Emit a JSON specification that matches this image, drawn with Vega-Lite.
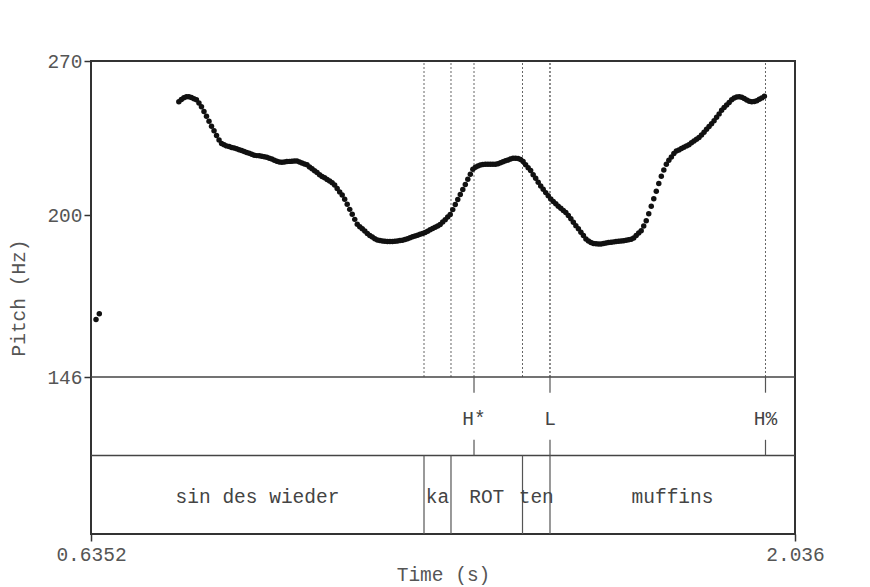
{
 "$schema": "https://vega.github.io/schema/vega-lite/v6.json",
 "width": 704,
 "height": 473,
 "autosize": {"type": "none"},
 "padding": {"left": 91, "top": 61, "right": 75, "bottom": 53},
 "background": "white",
 "config": {"view": {"stroke": "#333", "strokeWidth": 2}, "font": "Liberation Mono"},
 "datasets": {
  "words": [
   {"start": 0.6352, "end": 1.2978, "label": "sin des wieder"},
   {"start": 1.2978, "end": 1.3515, "label": "ka"},
   {"start": 1.3515, "end": 1.4938, "label": "ROT"},
   {"start": 1.4938, "end": 1.5485, "label": "ten"},
   {"start": 1.5485, "end": 2.036, "label": "muffins"}
  ],
  "tones": [
   {"time": 1.3973, "label": "H*"},
   {"time": 1.5485, "label": "L"},
   {"time": 1.9773, "label": "H%"}
  ],
  "pitch": [
   {"t":0.6452,"f":163.3},{"t":0.6517,"f":165.1},
   {"t":0.810,"f":249.4},{"t":0.815,"f":250.5},{"t":0.820,"f":251.4},{"t":0.825,"f":251.9},{"t":0.830,"f":251.9},{"t":0.835,"f":251.5},{"t":0.840,"f":250.9},{"t":0.845,"f":250.4},{"t":0.850,"f":248.8},{"t":0.855,"f":247.0},
   {"t":0.860,"f":244.7},{"t":0.865,"f":242.5},{"t":0.870,"f":240.1},{"t":0.875,"f":237.8},{"t":0.880,"f":235.7},{"t":0.885,"f":233.6},{"t":0.890,"f":231.5},{"t":0.895,"f":230.0},{"t":0.900,"f":229.4},{"t":0.905,"f":228.9},
   {"t":0.910,"f":228.6},{"t":0.915,"f":228.2},{"t":0.920,"f":228.0},{"t":0.925,"f":227.6},{"t":0.930,"f":227.2},{"t":0.935,"f":226.8},{"t":0.940,"f":226.4},{"t":0.945,"f":226.0},{"t":0.950,"f":225.6},{"t":0.955,"f":225.2},
   {"t":0.960,"f":224.8},{"t":0.965,"f":224.6},{"t":0.970,"f":224.5},{"t":0.975,"f":224.3},{"t":0.980,"f":224.1},{"t":0.985,"f":223.9},{"t":0.990,"f":223.5},{"t":0.995,"f":223.1},{"t":1.000,"f":222.6},{"t":1.005,"f":222.2},
   {"t":1.010,"f":221.8},{"t":1.015,"f":221.7},{"t":1.020,"f":221.8},{"t":1.025,"f":222.0},{"t":1.030,"f":222.1},{"t":1.035,"f":222.2},{"t":1.040,"f":222.3},{"t":1.045,"f":222.3},{"t":1.050,"f":221.8},{"t":1.055,"f":221.4},
   {"t":1.060,"f":221.0},{"t":1.065,"f":220.6},{"t":1.070,"f":219.7},{"t":1.075,"f":218.9},{"t":1.080,"f":218.1},{"t":1.085,"f":217.3},{"t":1.090,"f":216.4},{"t":1.095,"f":215.7},{"t":1.100,"f":215.1},{"t":1.105,"f":214.4},
   {"t":1.110,"f":213.8},{"t":1.115,"f":213.1},{"t":1.120,"f":212.1},{"t":1.125,"f":210.7},{"t":1.130,"f":209.3},{"t":1.135,"f":208.0},{"t":1.140,"f":206.3},{"t":1.145,"f":204.3},{"t":1.150,"f":202.3},{"t":1.155,"f":200.4},
   {"t":1.160,"f":198.4},{"t":1.165,"f":196.5},{"t":1.170,"f":195.6},{"t":1.175,"f":194.8},{"t":1.180,"f":194.0},{"t":1.185,"f":193.0},{"t":1.190,"f":192.3},{"t":1.195,"f":191.7},{"t":1.200,"f":191.1},{"t":1.205,"f":190.6},
   {"t":1.210,"f":190.4},{"t":1.215,"f":190.2},{"t":1.220,"f":190.1},{"t":1.225,"f":190.0},{"t":1.230,"f":190.0},{"t":1.235,"f":190.0},{"t":1.240,"f":190.1},{"t":1.245,"f":190.2},{"t":1.250,"f":190.4},{"t":1.255,"f":190.5},
   {"t":1.260,"f":190.8},{"t":1.265,"f":191.1},{"t":1.270,"f":191.4},{"t":1.275,"f":191.8},{"t":1.280,"f":192.1},{"t":1.285,"f":192.4},{"t":1.290,"f":192.7},{"t":1.295,"f":193.0},{"t":1.300,"f":193.4},{"t":1.305,"f":193.9},
   {"t":1.310,"f":194.4},{"t":1.315,"f":194.9},{"t":1.320,"f":195.4},{"t":1.325,"f":195.9},{"t":1.330,"f":196.4},{"t":1.335,"f":197.4},{"t":1.340,"f":198.3},{"t":1.345,"f":199.3},{"t":1.350,"f":200.3},{"t":1.355,"f":202.2},
   {"t":1.360,"f":204.2},{"t":1.365,"f":206.2},{"t":1.370,"f":208.2},{"t":1.375,"f":210.3},{"t":1.380,"f":212.3},{"t":1.385,"f":214.5},{"t":1.390,"f":216.6},{"t":1.395,"f":218.7},{"t":1.400,"f":219.6},{"t":1.405,"f":220.1},
   {"t":1.410,"f":220.5},{"t":1.415,"f":220.8},{"t":1.420,"f":220.9},{"t":1.425,"f":220.9},{"t":1.430,"f":220.9},{"t":1.435,"f":220.9},{"t":1.440,"f":220.9},{"t":1.445,"f":221.1},{"t":1.450,"f":221.5},{"t":1.455,"f":221.9},
   {"t":1.460,"f":222.4},{"t":1.465,"f":222.7},{"t":1.470,"f":223.1},{"t":1.475,"f":223.5},{"t":1.480,"f":223.5},{"t":1.485,"f":223.3},{"t":1.490,"f":222.9},{"t":1.495,"f":222.0},{"t":1.500,"f":220.7},{"t":1.505,"f":219.4},
   {"t":1.510,"f":218.2},{"t":1.515,"f":216.4},{"t":1.520,"f":214.9},{"t":1.525,"f":213.3},{"t":1.530,"f":211.7},{"t":1.535,"f":210.4},{"t":1.540,"f":209.0},{"t":1.545,"f":207.7},{"t":1.550,"f":206.4},{"t":1.555,"f":205.4},
   {"t":1.560,"f":204.5},{"t":1.565,"f":203.5},{"t":1.570,"f":202.7},{"t":1.575,"f":201.9},{"t":1.580,"f":201.1},{"t":1.585,"f":199.9},{"t":1.590,"f":198.6},{"t":1.595,"f":197.3},{"t":1.600,"f":196.0},{"t":1.605,"f":194.8},
   {"t":1.610,"f":193.5},{"t":1.615,"f":192.3},{"t":1.620,"f":191.0},{"t":1.625,"f":190.2},{"t":1.630,"f":189.7},{"t":1.635,"f":189.3},{"t":1.640,"f":189.2},{"t":1.645,"f":189.1},{"t":1.650,"f":189.1},{"t":1.655,"f":189.3},
   {"t":1.660,"f":189.5},{"t":1.665,"f":189.7},{"t":1.670,"f":189.8},{"t":1.675,"f":189.9},{"t":1.680,"f":190.0},{"t":1.685,"f":190.1},{"t":1.690,"f":190.2},{"t":1.695,"f":190.3},{"t":1.700,"f":190.5},{"t":1.705,"f":190.7},
   {"t":1.710,"f":190.9},{"t":1.715,"f":191.3},{"t":1.720,"f":192.3},{"t":1.725,"f":193.2},{"t":1.730,"f":194.1},{"t":1.735,"f":195.9},{"t":1.740,"f":197.9},{"t":1.745,"f":200.6},{"t":1.750,"f":203.5},{"t":1.755,"f":206.5},
   {"t":1.760,"f":209.6},{"t":1.765,"f":212.7},{"t":1.770,"f":215.8},{"t":1.775,"f":218.4},{"t":1.780,"f":220.9},{"t":1.785,"f":222.6},{"t":1.790,"f":224.0},{"t":1.795,"f":225.5},{"t":1.800,"f":226.6},{"t":1.805,"f":227.1},
   {"t":1.810,"f":227.7},{"t":1.815,"f":228.3},{"t":1.820,"f":228.9},{"t":1.825,"f":229.4},{"t":1.830,"f":230.3},{"t":1.835,"f":231.1},{"t":1.840,"f":231.9},{"t":1.845,"f":232.7},{"t":1.850,"f":233.8},{"t":1.855,"f":235.1},
   {"t":1.860,"f":236.4},{"t":1.865,"f":237.7},{"t":1.870,"f":239.0},{"t":1.875,"f":240.4},{"t":1.880,"f":242.0},{"t":1.885,"f":243.6},{"t":1.890,"f":245.3},{"t":1.895,"f":246.7},{"t":1.900,"f":247.9},{"t":1.905,"f":249.1},
   {"t":1.910,"f":250.4},{"t":1.915,"f":251.3},{"t":1.920,"f":251.7},{"t":1.925,"f":251.9},{"t":1.930,"f":251.6},{"t":1.935,"f":251.0},{"t":1.940,"f":250.3},{"t":1.945,"f":249.7},{"t":1.950,"f":249.4},{"t":1.955,"f":249.5},
   {"t":1.960,"f":249.9},{"t":1.965,"f":250.6},{"t":1.970,"f":251.3},{"t":1.975,"f":252.1}
  ]
 },
 "resolve": {"scale": {"y": "independent"}, "axis": {"y": "independent"}},
 "layer": [
  {
   "data": {"name": "words"},
   "transform": [{"filter": "datum.start > 0.64"}],
   "mark": {"type": "rule", "strokeDash": [2, 2], "color": "#666", "strokeWidth": 1},
   "encoding": {
    "x": {"field": "start", "type": "quantitative", "title": "Time (s)", "scale": {"domain": [0.6352, 2.036], "nice": false, "zero": false}},
    "y": {"datum": 146, "type": "quantitative", "scale": {"type": "log", "domain": [146, 270], "range": [316, 0], "nice": false}, "axis": null},
    "y2": {"datum": 270}
   }
  },
  {
   "data": {"name": "tones"},
   "mark": {"type": "rule", "strokeDash": [2, 2], "color": "#666", "strokeWidth": 1},
   "encoding": {
    "x": {"field": "time", "type": "quantitative", "title": "Time (s)", "scale": {"domain": [0.6352, 2.036], "nice": false, "zero": false}},
    "y": {"datum": 146, "type": "quantitative", "scale": {"type": "log", "domain": [146, 270], "range": [316, 0], "nice": false}, "axis": null},
    "y2": {"datum": 270}
   }
  },
  {
   "data": {"name": "pitch"},
   "mark": {"type": "circle", "size": 30, "color": "#111", "opacity": 1},
   "encoding": {
    "x": {"field": "t", "type": "quantitative", "title": "Time (s)",
     "scale": {"domain": [0.6352, 2.036], "nice": false, "zero": false},
     "axis": {"values": [0.6352, 2.036], "labelExpr": "format(datum.value, '.4r')", "domain": false, "grid": false, "tickSize": 7, "tickColor": "#333", "tickWidth": 1.5,
      "labelFont": "Liberation Mono", "labelFontSize": 19.5, "labelColor": "#555", "labelPadding": 4, "labelFlush": false,
      "titleFont": "Liberation Mono", "titleFontSize": 19.5, "titleFontWeight": "normal", "titleColor": "#555", "titleY": 31, "titleBaseline": "top"}},
    "y": {"field": "f", "type": "quantitative", "title": "Pitch (Hz)",
     "scale": {"type": "log", "domain": [146, 270], "range": [316, 0], "nice": false},
     "axis": {"values": [146, 200, 270], "format": "d", "domain": false, "grid": false, "tickSize": 7, "tickColor": "#333", "tickWidth": 1.5,
      "labelFont": "Liberation Mono", "labelFontSize": 19.5, "labelColor": "#555", "labelPadding": 2,
      "titleFont": "Liberation Mono", "titleFontSize": 19.5, "titleFontWeight": "normal", "titleColor": "#555", "titleX": -63, "titleY": 236.5}}
   }
  },
  {
   "data": {"values": [{}]},
   "mark": {"type": "rule", "color": "#444", "strokeWidth": 1.5},
   "encoding": {"y": {"datum": 2, "type": "quantitative", "scale": {"domain": [0, 2], "range": [473, 316]}, "axis": null}}
  },
  {
   "data": {"values": [{}]},
   "mark": {"type": "rule", "color": "#444", "strokeWidth": 1.5},
   "encoding": {"y": {"datum": 1, "type": "quantitative", "scale": {"domain": [0, 2], "range": [473, 316]}, "axis": null}}
  },
  {
   "data": {"name": "words"},
   "transform": [{"filter": "datum.start > 0.64"}],
   "mark": {"type": "rule", "color": "#555", "strokeWidth": 1.2},
   "encoding": {
    "x": {"field": "start", "type": "quantitative", "title": "Time (s)", "scale": {"domain": [0.6352, 2.036], "nice": false, "zero": false}},
    "y": {"datum": 0, "type": "quantitative", "scale": {"domain": [0, 2], "range": [473, 316]}, "axis": null},
    "y2": {"datum": 1}
   }
  },
  {
   "data": {"name": "words"},
   "transform": [{"calculate": "(datum.start + datum.end) / 2", "as": "mid"}],
   "mark": {"type": "text", "font": "Liberation Mono", "fontSize": 19.5, "color": "#444", "align": "center", "baseline": "middle"},
   "encoding": {
    "x": {"field": "mid", "type": "quantitative", "title": "Time (s)", "scale": {"domain": [0.6352, 2.036], "nice": false, "zero": false}},
    "y": {"datum": 0.47, "type": "quantitative", "scale": {"domain": [0, 2], "range": [473, 316]}, "axis": null},
    "text": {"field": "label"}
   }
  },
  {
   "data": {"name": "tones"},
   "mark": {"type": "rule", "color": "#555", "strokeWidth": 1.2},
   "encoding": {
    "x": {"field": "time", "type": "quantitative", "title": "Time (s)", "scale": {"domain": [0.6352, 2.036], "nice": false, "zero": false}},
    "y": {"datum": 2, "type": "quantitative", "scale": {"domain": [0, 2], "range": [473, 316]}, "axis": null},
    "y2": {"datum": 1.8}
   }
  },
  {
   "data": {"name": "tones"},
   "mark": {"type": "rule", "color": "#555", "strokeWidth": 1.2},
   "encoding": {
    "x": {"field": "time", "type": "quantitative", "title": "Time (s)", "scale": {"domain": [0.6352, 2.036], "nice": false, "zero": false}},
    "y": {"datum": 1, "type": "quantitative", "scale": {"domain": [0, 2], "range": [473, 316]}, "axis": null},
    "y2": {"datum": 1.2}
   }
  },
  {
   "data": {"name": "tones"},
   "mark": {"type": "text", "font": "Liberation Mono", "fontSize": 19.5, "color": "#444", "align": "center", "baseline": "middle"},
   "encoding": {
    "x": {"field": "time", "type": "quantitative", "title": "Time (s)", "scale": {"domain": [0.6352, 2.036], "nice": false, "zero": false}},
    "y": {"datum": 1.47, "type": "quantitative", "scale": {"domain": [0, 2], "range": [473, 316]}, "axis": null},
    "text": {"field": "label"}
   }
  }
 ]
}
